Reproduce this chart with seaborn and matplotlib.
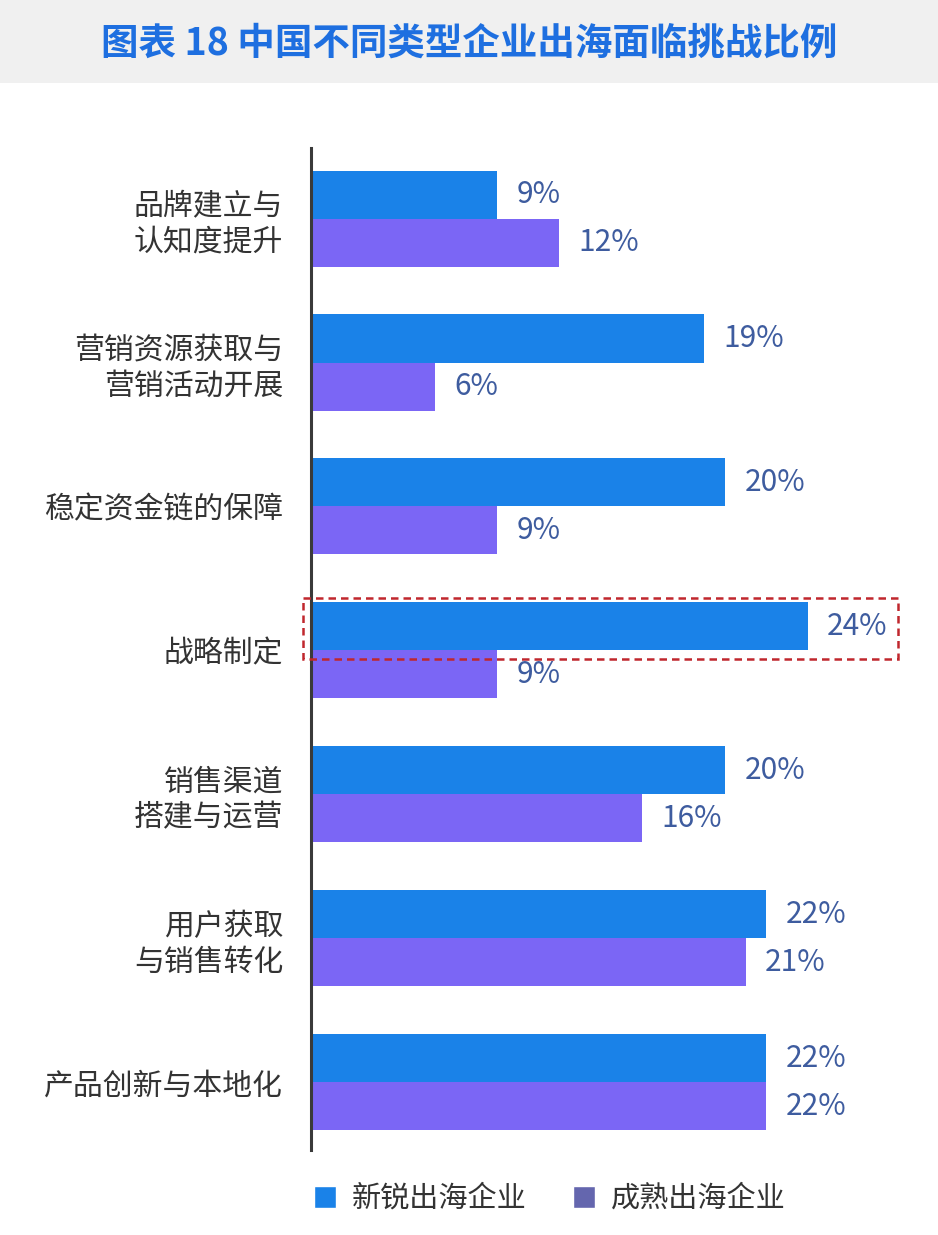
import pandas as pd
import seaborn as sns
import matplotlib.pyplot as plt
from matplotlib.patches import Patch, Rectangle

categories = [
    "品牌建立与\n认知度提升",
    "营销资源获取与\n营销活动开展",
    "稳定资金链的保障",
    "战略制定",
    "销售渠道\n搭建与运营",
    "用户获取\n与销售转化",
    "产品创新与本地化",
]
new_firms = [9, 19, 20, 24, 20, 22, 22]
mature_firms = [12, 6, 9, 9, 16, 21, 22]
series_names = ["新锐出海企业", "成熟出海企业"]

df = pd.DataFrame({
    "category": categories * 2,
    "value": new_firms + mature_firms,
    "series": [series_names[0]] * len(categories) + [series_names[1]] * len(categories),
})

sns.set_style("white")
plt.rcParams['font.family'] = ['Noto Sans CJK SC', 'DejaVu Sans']

fig = plt.figure(figsize=(9.38, 12.35), dpi=100)
ax = fig.add_axes([311 / 938, 1 - 1150 / 1235, 621 / 938, (1150 - 148) / 1235])

palette = {series_names[0]: "#1A82E8", series_names[1]: "#7B66F5"}
sns.barplot(data=df, y="category", x="value", hue="series", orient="h",
            palette=palette, width=0.667, ax=ax, legend=False, saturation=1,
            linewidth=0)

for cont in ax.containers:
    ax.bar_label(cont, labels=[f"{v:.0f}%" for v in cont.datavalues],
                 padding=14, fontsize=21.5, color="#3E5C9F", fontweight="light")

ax.set_xlim(0, 30)
ax.set_ylim(6.47, -0.49)
ax.set_xlabel("")
ax.set_ylabel("")
ax.set_xticks([])
ax.tick_params(axis="y", length=0, pad=20, labelsize=21.5, labelcolor="#333333")
for lbl in ax.get_yticklabels():
    lbl.set_fontweight("light")
for s in ["top", "right", "bottom"]:
    ax.spines[s].set_visible(False)
ax.spines["left"].set_color("#3a3a3a")
ax.spines["left"].set_linewidth(2.2)

# highlight box around 战略制定
ax.add_patch(Rectangle((-0.39, 2.639), 28.75, 0.417, fill=False,
                       edgecolor="#C0272D", linestyle=(0, (3, 2)), linewidth=1.8,
                       clip_on=False, zorder=5))

# title band
fig.patches.append(Rectangle((0, 1 - 83 / 1235), 1, 83 / 1235, transform=fig.transFigure,
                             facecolor="#F0F0F0", edgecolor="none", zorder=0))
fig.text(0.5, 1 - 43 / 1235, "图表 18 中国不同类型企业出海面临挑战比例", ha="center", va="center",
         fontsize=27, fontweight="bold", color="#1E6FE0")

handles = [Patch(facecolor="#1A82E8"), Patch(facecolor="#6466AE")]
leg = fig.legend(handles, series_names, loc="center", bbox_to_anchor=(550 / 938, 1 - 1199 / 1235),
                 ncol=2, frameon=False, fontsize=21, handlelength=0.75, handleheight=0.75,
                 handletextpad=0.55, columnspacing=1.6, labelcolor="#333333")
for t in leg.get_texts():
    t.set_fontweight("light")

fig.savefig("out.png", dpi=100)
